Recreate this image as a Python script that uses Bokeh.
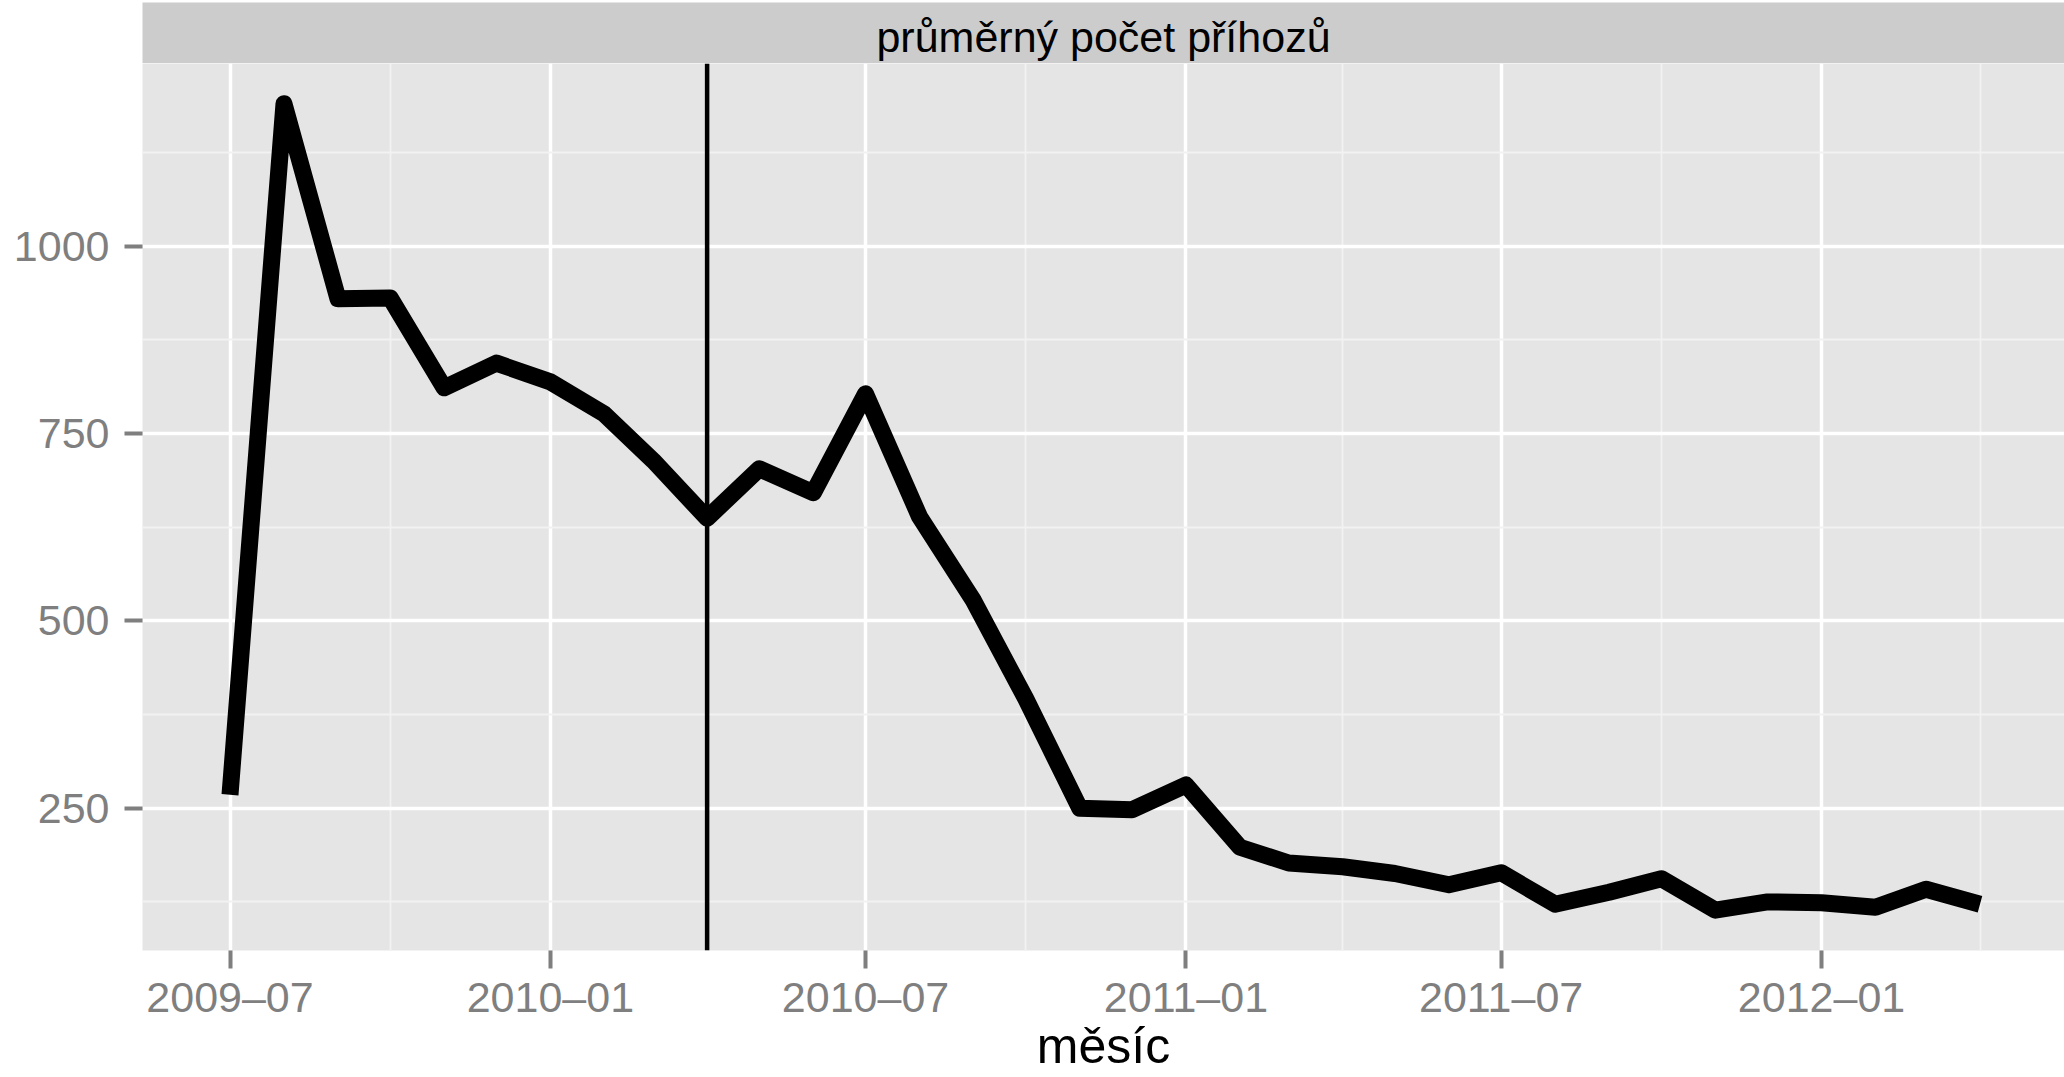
import datetime as dt
from bokeh.plotting import figure
from bokeh.models import FixedTicker, Span, Label, Range1d
from bokeh.layouts import column
from bokeh.embed import file_html
from bokeh.resources import INLINE

# ---------------- data ----------------
months = ["2009-07", "2009-08", "2009-09", "2009-10", "2009-11", "2009-12",
          "2010-01", "2010-02", "2010-03", "2010-04", "2010-05", "2010-06",
          "2010-07", "2010-08", "2010-09", "2010-10", "2010-11", "2010-12",
          "2011-01", "2011-02", "2011-03", "2011-04", "2011-05", "2011-06",
          "2011-07", "2011-08", "2011-09", "2011-10", "2011-11", "2011-12",
          "2012-01", "2012-02", "2012-03", "2012-04"]
values = [268, 1190, 930, 931, 811, 844,
          819, 776, 714, 637, 703, 671,
          803, 639, 527, 396, 250, 248,
          281, 198, 177, 172, 163, 148,
          164, 122, 138, 156, 114, 125,
          124, 118, 142, 122]
vline_month = "2010-04"
x_tick_months = ["2009-07", "2010-01", "2010-07", "2011-01", "2011-07", "2012-01"]
x_tick_labels = ["2009–07", "2010–01", "2010–07", "2011–01", "2011–07", "2012–01"]
x_minor_months = ["2009-10", "2010-04", "2010-10", "2011-04", "2011-10", "2012-04"]
y_ticks = [250, 500, 750, 1000]
y_minor_ticks = [125, 375, 625, 875, 1125]
strip_title = "průměrný počet příhozů"
x_title = "měsíc"


def ms(s):
    y, m = map(int, s.split("-"))
    return (dt.datetime(y, m, 1) - dt.datetime(1970, 1, 1)).total_seconds() * 1000.0


xs = [ms(m) for m in months]

# ---------------- layout constants ----------------
FONT = "Liberation Sans"
W = 2064
STRIP_H = 63
STRIP_TOP = 2
MAIN_H = 1013
LEFT = 142
BOTTOM = 120
REF_PANEL_W = 1925.0
FRAME_W = W - LEFT

# ggplot-style 5% expansion
x0, x1 = min(xs), max(xs)
xspan = x1 - x0
xstart = x0 - 0.05 * xspan
xend_full = x1 + 0.05 * xspan
xend = xstart + (xend_full - xstart) * FRAME_W / REF_PANEL_W
ymin, ymax = min(values), max(values)
yspan = ymax - ymin
ystart = ymin - 0.05 * yspan
yend = ymax + 0.05 * yspan

# ---------------- strip ----------------
s = figure(width=W, height=STRIP_H, output_backend="svg", toolbar_location=None,
           x_range=Range1d(0, 1), y_range=Range1d(0, 1),
           x_axis_location=None, y_axis_location=None,
           min_border_left=LEFT, min_border_right=0, min_border_top=STRIP_TOP, min_border_bottom=0)
s.grid.visible = False
s.background_fill_color = "#cccccc"
s.border_fill_color = "white"
s.outline_line_color = None
s.add_layout(Label(x=0.5, y=0.44, text=strip_title,
                   text_align="center", text_baseline="middle",
                   text_font=FONT, text_font_size="43px", text_color="#000000"))

# ---------------- main panel ----------------
p = figure(width=W, height=MAIN_H, output_backend="svg", toolbar_location=None,
           x_range=Range1d(xstart, xend), y_range=Range1d(ystart, yend),
           min_border_left=LEFT, min_border_right=0, min_border_top=0, min_border_bottom=BOTTOM)
p.background_fill_color = "#e5e5e5"
p.border_fill_color = "white"
p.outline_line_color = None

xt = [ms(m) for m in x_tick_months]
xm = [ms(m) for m in x_minor_months]
p.xaxis[0].ticker = FixedTicker(ticks=xt, minor_ticks=xm)
p.xaxis[0].major_label_overrides = {t: lab for t, lab in zip(xt, x_tick_labels)}
p.yaxis[0].ticker = FixedTicker(ticks=y_ticks, minor_ticks=y_minor_ticks)

for ax in (p.xaxis[0], p.yaxis[0]):
    ax.axis_line_color = None
    ax.major_tick_in = 0
    ax.major_tick_out = 18
    ax.major_tick_line_color = "#7f7f7f"
    ax.major_tick_line_width = 4
    ax.minor_tick_line_color = None
    ax.major_label_text_font = FONT
    ax.major_label_text_font_size = "43px"
    ax.major_label_text_color = "#7f7f7f"

p.yaxis[0].major_label_standoff = 15
p.xaxis[0].major_label_standoff = 4
p.xaxis[0].axis_label = x_title
p.xaxis[0].axis_label_text_font = FONT
p.xaxis[0].axis_label_text_font_size = "50px"
p.xaxis[0].axis_label_text_font_style = "normal"
p.xaxis[0].axis_label_text_color = "#000000"
p.xaxis[0].axis_label_standoff = -6

for g in (p.xgrid[0], p.ygrid[0]):
    g.grid_line_color = "white"
    g.grid_line_width = 3.5
    g.minor_grid_line_color = "#f2f2f2"
    g.minor_grid_line_width = 1.8

p.line(xs, values, line_color="black", line_width=17, line_join="round", line_cap="butt")

p.add_layout(Span(location=ms(vline_month), dimension="height", line_color="black", line_width=4.5))

layout = column(s, p)
open("out.html", "w").write(file_html(layout, INLINE))
